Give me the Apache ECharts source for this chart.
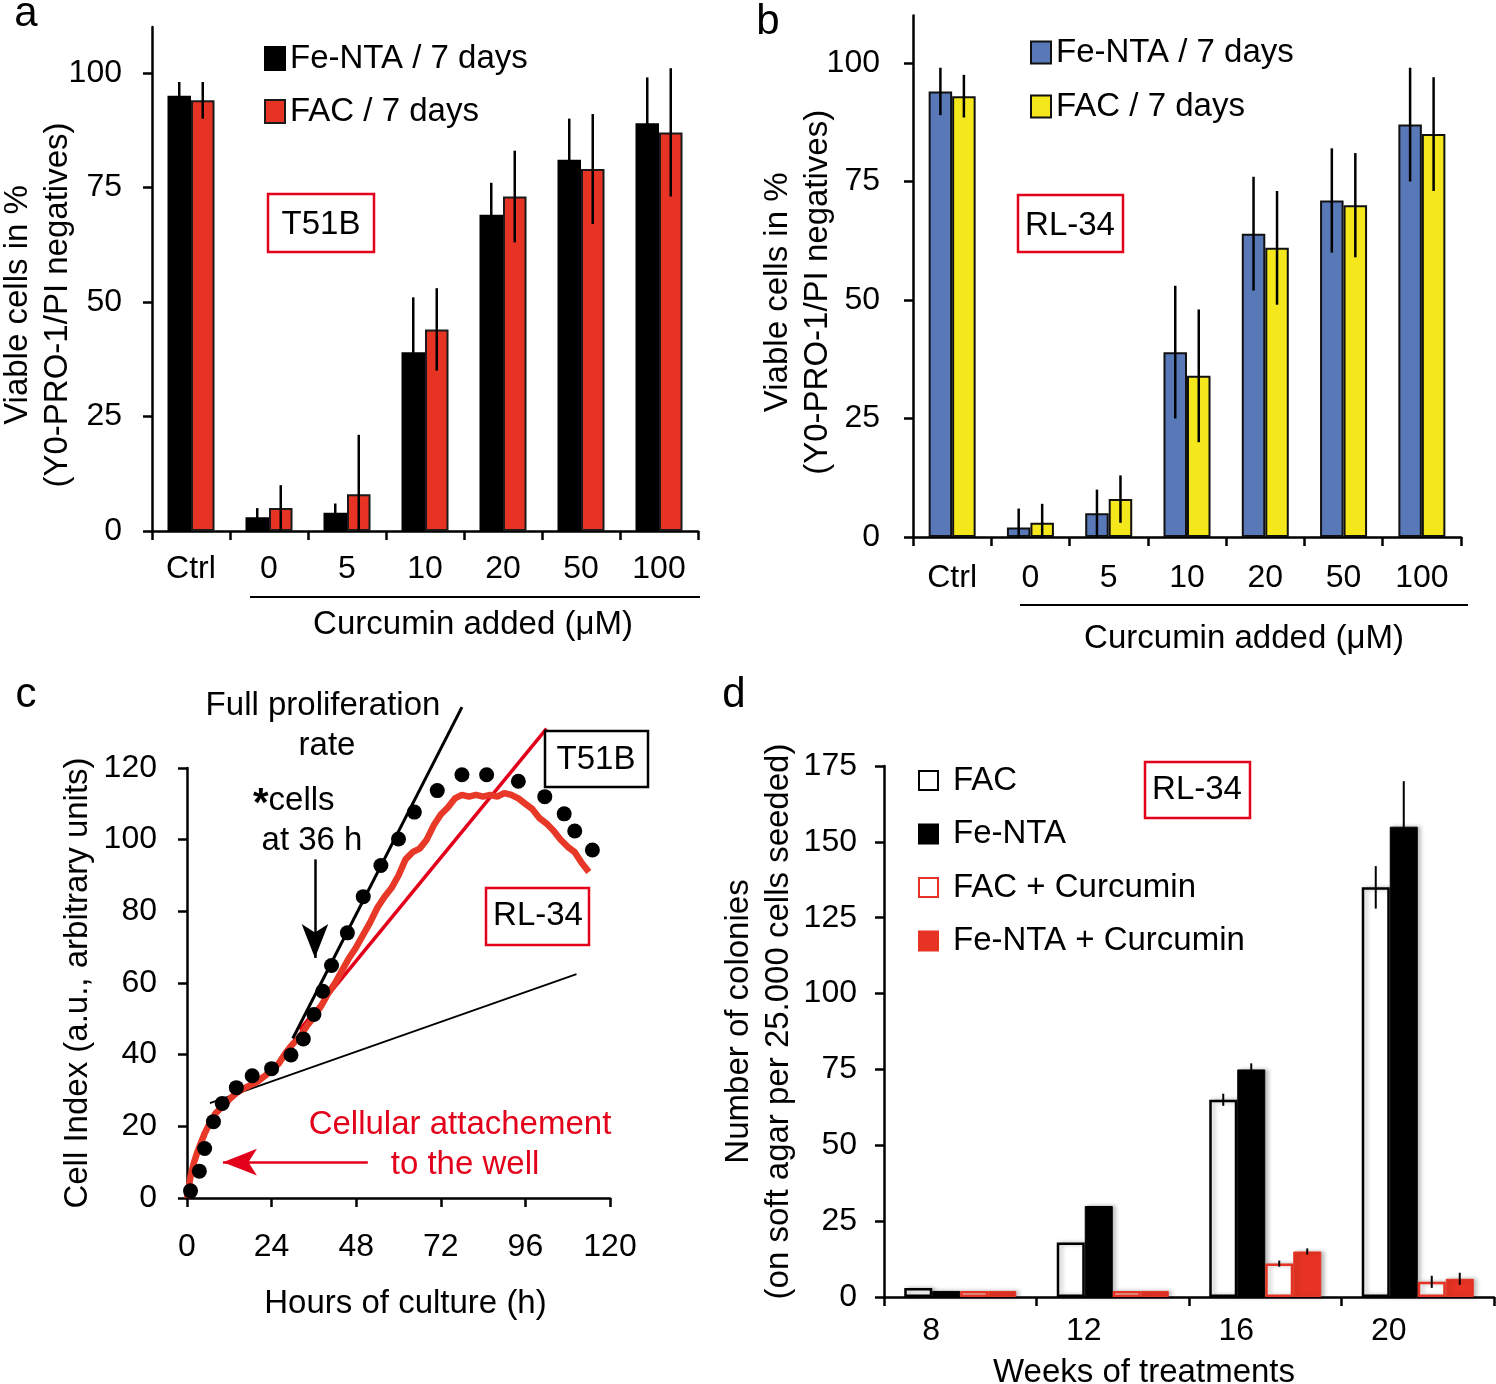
<!DOCTYPE html>
<html><head><meta charset="utf-8">
<script src="https://cdn.jsdelivr.net/npm/echarts@6/dist/echarts.min.js"></script>
<style>html,body{margin:0;padding:0;background:#fff}#main{width:1496px;height:1384px}</style>
</head><body><div id="main"></div>
<script>
const FONT = '"Liberation Sans", Arial, Helvetica, sans-serif';
// ---- Panel a (T51B) ----
const aCategories = ['Ctrl', '0', '5', '10', '20', '50', '100'];
const aFeNTA = [95, 3, 4, 39, 69, 81, 89];
const aFeNTAErr = [3, 2, 2, 12, 7, 9, 10];
const aFAC = [94, 5, 8, 44, 73, 79, 87];
const aFACErr = [4, 5, 13, 9, 10, 12, 14];
const aYTicks = [0, 25, 50, 75, 100];
// ---- Panel b (RL-34) ----
const bCategories = ['Ctrl', '0', '5', '10', '20', '50', '100'];
const bFeNTA = [94, 2, 5, 39, 64, 71, 87];
const bFeNTAErr = [5, 4, 5, 14, 12, 11, 12];
const bFAC = [93, 3, 8, 34, 61, 70, 85];
const bFACErr = [4.5, 4, 5, 14, 12, 11, 12];
const bYTicks = [0, 25, 50, 75, 100];
// ---- Panel c (cell index) ----
const cT51BHours = [1, 3.5, 5, 7.5, 10, 14, 18.5, 24, 29.5, 33, 36, 38.5, 41, 45.5, 50, 55, 60, 64.5, 71, 78, 85, 94, 101.5, 107, 110, 115];
const cT51BIndex = [2, 7.5, 13.8, 21.3, 26.4, 30.8, 34.1, 36.1, 39.9, 44.4, 51.2, 57.7, 64.9, 74, 84.1, 92.8, 100.2, 107.7, 113.7, 118.1, 118.1, 116.3, 112, 107.2, 102.4, 97.1];
const cRL34Hours = [0, 1, 2, 3, 4, 5, 6, 8, 10, 12, 14, 16, 18, 20, 22, 24, 26, 28, 30, 32, 34, 36, 38, 40, 42, 44, 46, 48, 50, 52, 54, 56, 58, 60, 62, 64, 66, 68, 70, 72, 74, 76, 78, 80, 82, 84, 86, 88, 90, 92, 94, 96, 98, 100, 102, 104, 106, 108, 110, 112, 114];
const cRL34Index = [0, 6, 10, 13, 15.5, 18, 20, 23.5, 25.5, 27.5, 29.3, 30.5, 31.5, 32.5, 34, 35.6, 37.5, 40.5, 43, 45, 48, 50.5, 53.5, 57, 60, 63.5, 67, 70, 73.5, 77, 81, 84, 86.5, 90, 94.5, 96.5, 97.5, 100, 104, 107, 109, 111.5, 112.5, 112, 112.5, 112, 112.5, 112, 113, 112.5, 111.5, 110, 108.5, 106, 104.5, 102.5, 100, 98, 96.5, 93.5, 91];
const cFullRateHours = [30, 78];
const cFullRateIndex = [44.5, 137];
const cRL34RateHours = [32, 102];
const cRL34RateIndex = [47, 131];
const cAttachHours = [6.5, 110.5];
const cAttachIndex = [26.5, 62.5];
// ---- Panel d (colonies) ----
const dCategories = ['8', '12', '16', '20'];
const dFAC = [3, 18, 65, 135];
const dFACErr = [0, 0, 2, 7];
const dFeNTA = [2, 30, 75, 155];
const dFeNTAErr = [0, 0, 2, 15];
const dFACCur = [2, 2, 11, 5];
const dFACCurErr = [0, 0, 1, 2];
const dFeNTACur = [2, 2, 15, 6];
const dFeNTACurErr = [0, 0, 1, 2];

const RED = '#e63323';
const BOXRED = '#e2001a';
const pairs = (xs, ys) => xs.map((x, i) => [x, ys[i]]);
const strip = n => n.replace(/ \[[a-d]\]$/, '');

const axisLine = { show: true, lineStyle: { color: '#000', width: 2.5 } };
const tick = (extra) => Object.assign({ show: true, length: 9, inside: false, lineStyle: { color: '#000', width: 2.5 } }, extra || {});
const lbl = (extra) => Object.assign({ color: '#000', fontSize: 32, fontFamily: FONT }, extra || {});
const nameStyle = (extra) => Object.assign({ color: '#000', fontSize: 33, fontFamily: FONT, lineHeight: 40 }, extra || {});

function errSeries(axisIdx, values, errs, offset, lw) {
  return {
    type: 'custom', xAxisIndex: axisIdx, yAxisIndex: axisIdx, z: 5, silent: true,
    data: values.map((v, i) => [i, v, errs[i]]),
    renderItem: function (params, api) {
      const e = api.value(2);
      if (!e) return { type: 'group', children: [] };
      const i = api.value(0), v = api.value(1);
      const p1 = api.coord([i, v + e]), p2 = api.coord([i, Math.max(0, v - e)]);
      return { type: 'line', shape: { x1: p1[0] + offset, y1: p1[1], x2: p2[0] + offset, y2: p2[1] }, style: { stroke: '#000', lineWidth: lw } };
    }
  };
}

function box(x, y, w, h, color, text, tx, ty) {
  return [
    { type: 'rect', shape: { x: x, y: y, width: w, height: h }, style: { fill: '#fff', stroke: color, lineWidth: 2.5 }, z: 10 },
    { type: 'text', x: tx, y: ty, style: { text: text, fill: '#000', font: '33px ' + FONT, textAlign: 'center', textVerticalAlign: 'middle' }, z: 11 }
  ];
}
function txt(x, y, s, opts) {
  return Object.assign({ type: 'text', x: x, y: y, z: 11, style: Object.assign({ text: s, fill: '#000', font: '33px ' + FONT, textAlign: 'center', textVerticalAlign: 'middle' }, opts || {}) });
}

const chart = echarts.init(document.getElementById('main'));
const option = {
  animation: false,
  backgroundColor: '#fff',
  grid: [
    { left: 152, top: 27, width: 546, height: 504, outerBoundsMode: 'none', containLabel: false },
    { left: 913, top: 15.6, width: 548, height: 521.4, outerBoundsMode: 'none', containLabel: false },
    { left: 187, top: 768, width: 423, height: 430, outerBoundsMode: 'none', containLabel: false },
    { left: 884, top: 766, width: 610, height: 531, outerBoundsMode: 'none', containLabel: false }
  ],
  xAxis: [
    { type: 'category', gridIndex: 0, data: aCategories, axisLine, axisTick: tick(), axisLabel: lbl({ margin: 22 }),
      name: 'Curcumin added (μM)', nameLocation: 'middle', nameGap: 74, nameTextStyle: nameStyle({ padding: [0, 0, 0, 96] }) },
    { type: 'category', gridIndex: 1, data: bCategories, axisLine, axisTick: tick(), axisLabel: lbl({ margin: 25 }),
      name: 'Curcumin added (μM)', nameLocation: 'middle', nameGap: 82, nameTextStyle: nameStyle({ padding: [0, 0, 0, 114] }) },
    { type: 'value', gridIndex: 2, min: 0, max: 120, interval: 24, splitLine: { show: false }, axisLine, axisTick: tick(), axisLabel: lbl({ margin: 33 }),
      name: 'Hours of culture (h)', nameLocation: 'middle', nameGap: 86, nameTextStyle: nameStyle({ padding: [0, 0, 0, 14] }) },
    { type: 'category', gridIndex: 3, data: dCategories, axisLine, axisTick: tick(), axisLabel: lbl({ margin: 18, padding: [0, 58, 0, 0] }),
      name: 'Weeks of treatments', nameLocation: 'middle', nameGap: 56, nameTextStyle: nameStyle({ padding: [0, 90, 0, 0] }) }
  ],
  yAxis: [
    { type: 'value', gridIndex: 0, min: 0, max: 110, interval: 25, splitLine: { show: false }, axisLine,
      axisTick: tick({ customValues: aYTicks }), axisLabel: lbl({ margin: 30, customValues: aYTicks }),
      name: 'Viable cells in %\n(Y0-PRO-1/PI negatives)', nameLocation: 'middle', nameRotate: 90, nameGap: 74, nameMoveOverlap: false,
      nameTextStyle: nameStyle({ padding: [0, 52, 0, 0] }) },
    { type: 'value', gridIndex: 1, min: 0, max: 110, interval: 25, splitLine: { show: false }, axisLine,
      axisTick: tick({ customValues: bYTicks }), axisLabel: lbl({ margin: 33, customValues: bYTicks }),
      name: 'Viable cells in %\n(Y0-PRO-1/PI negatives)', nameLocation: 'middle', nameRotate: 90, nameGap: 75, nameMoveOverlap: false,
      nameTextStyle: nameStyle({ padding: [0, 32, 0, 0] }) },
    { type: 'value', gridIndex: 2, min: 0, max: 120, interval: 20, splitLine: { show: false }, axisLine, axisTick: tick(), axisLabel: lbl({ margin: 30 }),
      name: 'Cell Index (a.u., arbitrary units)', nameLocation: 'middle', nameRotate: 90, nameGap: 89, nameMoveOverlap: false, nameTextStyle: nameStyle() },
    { type: 'value', gridIndex: 3, min: 0, max: 175, interval: 25, splitLine: { show: false }, axisLine, axisTick: tick(), axisLabel: lbl({ margin: 27 }),
      name: 'Number of colonies\n(on soft agar per 25.000 cells seeded)', nameLocation: 'middle', nameRotate: 90, nameGap: 85, nameMoveOverlap: false,
      nameTextStyle: nameStyle({ padding: [0, 0, 0, 20] }) }
  ],
  legend: [
    { left: 259, top: 37, orient: 'vertical', icon: 'rect', itemWidth: 20, itemHeight: 23, itemGap: 20, selectedMode: false, formatter: strip,
      data: ['Fe-NTA / 7 days [a]', 'FAC / 7 days [a]'], textStyle: { fontSize: 33, lineHeight: 33, fontFamily: FONT, color: '#000', padding: [0, 0, 0, 0] } },
    { left: 1025, top: 31, orient: 'vertical', icon: 'rect', itemWidth: 20, itemHeight: 22, itemGap: 21, selectedMode: false, formatter: strip,
      data: ['Fe-NTA / 7 days [b]', 'FAC / 7 days [b]'], textStyle: { fontSize: 33, lineHeight: 33, fontFamily: FONT, color: '#000', padding: [0, 0, 0, 0] } },
    { left: 913, top: 759, orient: 'vertical', icon: 'rect', itemWidth: 19, itemHeight: 19, itemGap: 20.5, selectedMode: false, formatter: strip,
      data: ['FAC [d]', 'Fe-NTA [d]', 'FAC + Curcumin [d]', 'Fe-NTA + Curcumin [d]'], textStyle: { fontSize: 33, lineHeight: 33, fontFamily: FONT, color: '#000', padding: [0, 0, 0, 10] } }
  ],
  series: [
    // a
    { name: 'Fe-NTA / 7 days [a]', type: 'bar', xAxisIndex: 0, yAxisIndex: 0, data: aFeNTA, barWidth: 23.5, barGap: '0%',
      itemStyle: { color: '#000', borderColor: '#000', borderWidth: 2 } },
    { name: 'FAC / 7 days [a]', type: 'bar', xAxisIndex: 0, yAxisIndex: 0, data: aFAC, barWidth: 23.5, barGap: '0%',
      itemStyle: { color: RED, borderColor: '#1a1a1a', borderWidth: 2 } },
    errSeries(0, aFeNTA, aFeNTAErr, -11.75, 2.5),
    errSeries(0, aFAC, aFACErr, 11.75, 2.5),
    // b
    { name: 'Fe-NTA / 7 days [b]', type: 'bar', xAxisIndex: 1, yAxisIndex: 1, data: bFeNTA, barWidth: 23.5, barGap: '0%',
      itemStyle: { color: '#5878b8', borderColor: '#111', borderWidth: 2 } },
    { name: 'FAC / 7 days [b]', type: 'bar', xAxisIndex: 1, yAxisIndex: 1, data: bFAC, barWidth: 23.5, barGap: '0%',
      itemStyle: { color: '#f4e71c', borderColor: '#111', borderWidth: 2 } },
    errSeries(1, bFeNTA, bFeNTAErr, -11.75, 2.5),
    errSeries(1, bFAC, bFACErr, 11.75, 2.5),
    // c
    { name: 'attach', type: 'line', xAxisIndex: 2, yAxisIndex: 2, data: pairs(cAttachHours, cAttachIndex), showSymbol: false, clip: false,
      lineStyle: { color: '#000', width: 1.8 }, z: 2 },
    { name: 'RL-34 rate', type: 'line', xAxisIndex: 2, yAxisIndex: 2, data: pairs(cRL34RateHours, cRL34RateIndex), showSymbol: false, clip: false,
      lineStyle: { color: BOXRED, width: 3.5 }, z: 3 },
    { name: 'RL-34', type: 'line', xAxisIndex: 2, yAxisIndex: 2, data: pairs(cRL34Hours, cRL34Index), showSymbol: false, clip: false,
      lineStyle: { color: '#e73828', width: 6.5 }, z: 4 },
    { name: 'Full rate', type: 'line', xAxisIndex: 2, yAxisIndex: 2, data: pairs(cFullRateHours, cFullRateIndex), showSymbol: false, clip: false,
      lineStyle: { color: '#000', width: 3 }, z: 5 },
    { name: 'T51B', type: 'scatter', xAxisIndex: 2, yAxisIndex: 2, data: pairs(cT51BHours, cT51BIndex), symbolSize: 15, clip: false,
      itemStyle: { color: '#000', opacity: 1 }, z: 6,
      markLine: { silent: true, symbol: ['none', 'arrow'], label: { show: false },
        data: [
          [{ coord: [36.3, 94.5], symbol: 'none', lineStyle: { color: '#000', width: 2.5, type: 'solid' }, symbolSize: [20, 34] },
           { coord: [36.3, 67], symbol: 'arrow', symbolSize: [20, 34] }],
          [{ coord: [51.3, 10], symbol: 'none', lineStyle: { color: BOXRED, width: 2.5, type: 'solid' }, symbolSize: [20, 34] },
           { coord: [10.2, 10], symbol: 'arrow', symbolSize: [20, 34] }]
        ] } },
    // d
    { name: 'FAC [d]', type: 'bar', xAxisIndex: 3, yAxisIndex: 3, data: dFAC, barWidth: 28, barGap: '0%',
      itemStyle: { color: '#fff', borderColor: '#000', borderWidth: 2.5, shadowColor: 'rgba(0,0,0,0.25)', shadowBlur: 4, shadowOffsetX: 3 } },
    { name: 'Fe-NTA [d]', type: 'bar', xAxisIndex: 3, yAxisIndex: 3, data: dFeNTA, barWidth: 28, barGap: '0%',
      itemStyle: { color: '#000', borderColor: '#000', borderWidth: 1, shadowColor: 'rgba(0,0,0,0.25)', shadowBlur: 4, shadowOffsetX: 3 } },
    { name: 'FAC + Curcumin [d]', type: 'bar', xAxisIndex: 3, yAxisIndex: 3, data: dFACCur, barWidth: 28, barGap: '0%',
      itemStyle: { color: '#fff', borderColor: RED, borderWidth: 2.5, shadowColor: 'rgba(0,0,0,0.25)', shadowBlur: 4, shadowOffsetX: 3 } },
    { name: 'Fe-NTA + Curcumin [d]', type: 'bar', xAxisIndex: 3, yAxisIndex: 3, data: dFeNTACur, barWidth: 28, barGap: '0%',
      itemStyle: { color: RED, borderColor: RED, borderWidth: 1, shadowColor: 'rgba(0,0,0,0.25)', shadowBlur: 4, shadowOffsetX: 3 } },
    errSeries(3, dFAC, dFACErr, -42, 2),
    errSeries(3, dFeNTA, dFeNTAErr, -14, 2),
    errSeries(3, dFACCur, dFACCurErr, 14, 2),
    errSeries(3, dFeNTACur, dFeNTACurErr, 42, 2)
  ],
  graphic: [
    txt(26, 14, 'a', { font: '42px ' + FONT }),
    txt(768, 22, 'b', { font: '42px ' + FONT }),
    txt(26, 695, 'c', { font: '42px ' + FONT }),
    txt(734, 695, 'd', { font: '42px ' + FONT }),
    { type: 'line', shape: { x1: 250, y1: 597, x2: 700, y2: 597 }, style: { stroke: '#000', lineWidth: 2 } },
    { type: 'line', shape: { x1: 1020, y1: 605, x2: 1468, y2: 605 }, style: { stroke: '#000', lineWidth: 2 } },
    ...box(268, 194, 106, 58, BOXRED, 'T51B', 321, 225),
    ...box(1018, 195, 105, 57, BOXRED, 'RL-34', 1070, 226),
    ...box(545, 731, 103, 56, '#000', 'T51B', 596, 760),
    ...box(486, 888, 103, 57, BOXRED, 'RL-34', 538, 916),
    ...box(1145, 762, 105, 56, BOXRED, 'RL-34', 1197, 790),
    txt(323, 706, 'Full proliferation'),
    txt(327, 746, 'rate'),
    { type: 'text', x: 253, y: 801, z: 11, style: { text: '{s|*}cells', fill: '#000', font: '33px ' + FONT, textAlign: 'left', textVerticalAlign: 'middle',
      rich: { s: { font: 'bold 40px ' + FONT, fill: '#000', padding: [8, 0, 0, 0] } } } },
    txt(312, 841, 'at 36 h'),
    txt(460, 1125, 'Cellular attachement', { fill: BOXRED }),
    txt(465, 1165, 'to the well', { fill: BOXRED })
  ]
};
chart.setOption(option);
</script>
</body></html>
